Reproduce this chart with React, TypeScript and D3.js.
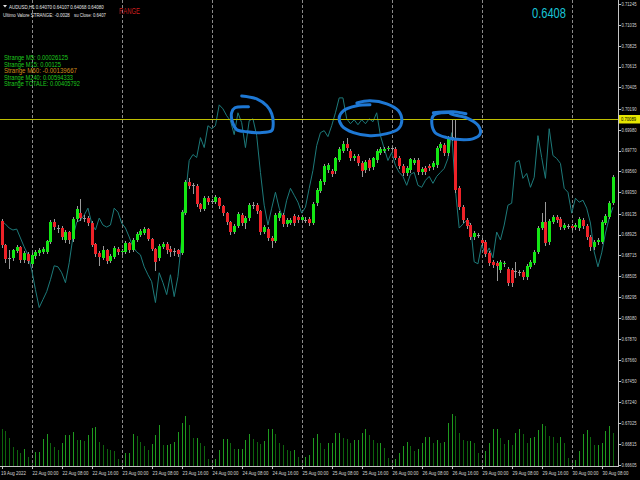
import React from "react";
import * as d3 from "d3";

// ---------- DATA (AUDUSD H1, bar 0 = 19 Aug 2022 16:00) ----------
const openP = [
0.6906,0.6882,0.6869,0.6869,0.6876,0.6880,0.6867,0.6873,0.6863,0.6871,
0.6874,0.6875,0.6875,0.6885,0.6905,0.6899,0.6899,0.6887,0.6895,0.6888,
0.6908,0.6914,0.6909,0.6909,0.6904,0.6883,0.6874,0.6869,0.6877,0.6866,
0.6870,0.6878,0.6875,0.6875,0.6884,0.6877,0.6887,0.6892,0.6894,0.6898,
0.6888,0.6878,0.6869,0.6880,0.6883,0.6878,0.6876,0.6877,0.6874,0.6914,
0.6945,0.6942,0.6941,0.6923,0.6918,0.6929,0.6926,0.6925,0.6929,0.6921,
0.6914,0.6905,0.6895,0.6901,0.6912,0.6904,0.6909,0.6922,0.6922,0.6916,
0.6895,0.6898,0.6889,0.6886,0.6909,0.6912,0.6903,0.6904,0.6911,0.6910,
0.6907,0.6907,0.6908,0.6904,0.6924,0.6936,0.6945,0.6957,0.6956,0.6956,
0.6967,0.6977,0.6984,0.6977,0.6969,0.6972,0.6964,0.6957,0.6967,0.6960,
0.6967,0.6975,0.6977,0.6979,0.6980,0.6979,0.6970,0.6961,0.6954,0.6957,
0.6964,0.6967,0.6955,0.6959,0.6961,0.6960,0.6962,0.6980,0.6983,0.6975,
0.6991,0.6989,0.6939,0.6920,0.6907,0.6902,0.6890,0.6892,0.6887,0.6885,
0.6874,0.6865,0.6864,0.6857,0.6863,0.6858,0.6857,0.6856,0.6855,0.6855,
0.6850,0.6860,0.6864,0.6875,0.6899,0.6905,0.6885,0.6905,0.6910,0.6908,
0.6899,0.6901,0.6901,0.6900,0.6899,0.6907,0.6901,0.6890,0.6880,0.6885,
0.6885,0.6904,0.6910,0.6924];

const closeP = [
0.6882,0.6868,0.6869,0.6877,0.6880,0.6867,0.6874,0.6866,0.6872,0.6875,
0.6877,0.6878,0.6886,0.6905,0.6900,0.6899,0.6890,0.6895,0.6887,0.6908,
0.6918,0.6909,0.6909,0.6904,0.6882,0.6873,0.6870,0.6877,0.6866,0.6871,
0.6879,0.6875,0.6876,0.6884,0.6877,0.6887,0.6893,0.6896,0.6898,0.6888,
0.6878,0.6865,0.6881,0.6883,0.6877,0.6875,0.6876,0.6873,0.6915,0.6945,
0.6941,0.6942,0.6923,0.6918,0.6929,0.6925,0.6926,0.6930,0.6921,0.6914,
0.6905,0.6895,0.6901,0.6913,0.6904,0.6909,0.6922,0.6922,0.6916,0.6895,
0.6900,0.6889,0.6886,0.6912,0.6914,0.6903,0.6907,0.6907,0.6904,0.6907,
0.6910,0.6907,0.6904,0.6923,0.6937,0.6946,0.6961,0.6962,0.6953,0.6969,
0.6979,0.6984,0.6980,0.6969,0.6972,0.6964,0.6956,0.6965,0.6959,0.6969,
0.6977,0.6979,0.6979,0.6980,0.6980,0.6970,0.6961,0.6954,0.6959,0.6968,
0.6967,0.6955,0.6958,0.6955,0.6959,0.6964,0.6980,0.6984,0.6975,0.6990,
0.6991,0.6937,0.6920,0.6907,0.6901,0.6890,0.6894,0.6892,0.6884,0.6873,
0.6864,0.6862,0.6861,0.6865,0.6864,0.6844,0.6844,0.6856,0.6855,0.6850,
0.6861,0.6865,0.6875,0.6899,0.6905,0.6884,0.6906,0.6910,0.6907,0.6900,
0.6902,0.6901,0.6899,0.6902,0.6908,0.6901,0.6890,0.6880,0.6885,0.6887,
0.6905,0.6911,0.6924,0.6950];

const highP = [
0.6908,0.6883,0.6877,0.6878,0.6882,0.6881,0.6876,0.6875,0.6874,0.6877,
0.6879,0.6880,0.6887,0.6907,0.6908,0.6902,0.6901,0.6897,0.6896,0.6910,
0.6921,0.6928,0.6912,0.6911,0.6906,0.6884,0.6876,0.6881,0.6878,0.6873,
0.6881,0.6880,0.6878,0.6886,0.6885,0.6889,0.6895,0.6898,0.6900,0.6899,
0.6889,0.6879,0.6883,0.6885,0.6885,0.6881,0.6879,0.6878,0.6917,0.6947,
0.6949,0.6944,0.6943,0.6924,0.6931,0.6931,0.6928,0.6932,0.6930,0.6922,
0.6915,0.6906,0.6903,0.6915,0.6914,0.6911,0.6924,0.6925,0.6924,0.6917,
0.6902,0.6900,0.6891,0.6914,0.6916,0.6914,0.6909,0.6909,0.6913,0.6912,
0.6912,0.6910,0.6910,0.6925,0.6939,0.6948,0.6963,0.6964,0.6958,0.6971,
0.6981,0.6987,0.6990,0.6979,0.6974,0.6974,0.6966,0.6967,0.6969,0.6971,
0.6979,0.6981,0.6981,0.6982,0.6982,0.6981,0.6972,0.6963,0.6961,0.6970,
0.6969,0.6969,0.6960,0.6961,0.6963,0.6966,0.6982,0.6986,0.6985,0.6992,
0.7009,0.7009,0.6941,0.6922,0.6909,0.6904,0.6896,0.6894,0.6889,0.6887,
0.6876,0.6867,0.6866,0.6867,0.6866,0.6860,0.6859,0.6865,0.6857,0.6857,
0.6863,0.6867,0.6877,0.6901,0.6914,0.6925,0.6908,0.6912,0.6912,0.6910,
0.6904,0.6903,0.6903,0.6904,0.6910,0.6909,0.6903,0.6892,0.6887,0.6889,
0.6907,0.6913,0.6926,0.6952];

const lowP = [
0.6880,0.6865,0.6859,0.6867,0.6875,0.6865,0.6865,0.6864,0.6860,0.6869,
0.6872,0.6874,0.6874,0.6884,0.6898,0.6895,0.6888,0.6885,0.6884,0.6886,
0.6906,0.6907,0.6906,0.6902,0.6881,0.6871,0.6862,0.6868,0.6864,0.6865,
0.6869,0.6873,0.6873,0.6874,0.6875,0.6876,0.6886,0.6891,0.6893,0.6887,
0.6877,0.6857,0.6867,0.6879,0.6874,0.6871,0.6872,0.6871,0.6873,0.6913,
0.6939,0.6934,0.6921,0.6916,0.6917,0.6923,0.6924,0.6924,0.6919,0.6912,
0.6903,0.6893,0.6894,0.6900,0.6902,0.6899,0.6907,0.6919,0.6914,0.6893,
0.6894,0.6887,0.6880,0.6885,0.6907,0.6901,0.6901,0.6903,0.6902,0.6905,
0.6905,0.6905,0.6902,0.6903,0.6922,0.6935,0.6943,0.6955,0.6951,0.6954,
0.6966,0.6976,0.6978,0.6967,0.6967,0.6962,0.6951,0.6955,0.6957,0.6958,
0.6965,0.6974,0.6976,0.6978,0.6978,0.6968,0.6959,0.6952,0.6952,0.6955,
0.6963,0.6953,0.6953,0.6953,0.6957,0.6958,0.6960,0.6978,0.6973,0.6973,
0.6988,0.6935,0.6918,0.6905,0.6899,0.6888,0.6888,0.6890,0.6882,0.6871,
0.6862,0.6860,0.6847,0.6855,0.6861,0.6842,0.6841,0.6850,0.6852,0.6848,
0.6848,0.6859,0.6863,0.6874,0.6898,0.6882,0.6883,0.6904,0.6905,0.6898,
0.6898,0.6899,0.6897,0.6898,0.6897,0.6899,0.6888,0.6877,0.6878,0.6883,
0.6884,0.6903,0.6909,0.6923];

// overlay line (teal)
const overlayLine = [
0.6906,0.6903,0.6899,0.6897,0.6898,0.6889,0.6880,0.6872,0.6857,0.6837,
0.6819,0.6827,0.6835,0.6847,0.6861,0.6860,0.6854,0.6844,0.6864,0.6890,
0.6905,0.6907,0.6912,0.6919,0.6904,0.6897,0.6909,0.6902,0.6900,0.6902,
0.6919,0.6915,0.6904,0.6899,0.6890,0.6880,0.6875,0.6872,0.6860,0.6852,
0.6845,0.6824,0.6854,0.6844,0.6832,0.6852,0.6830,0.6850,0.6887,0.6932,
0.6967,0.6973,0.6970,0.6990,0.6980,0.7002,0.6999,0.7002,0.7023,0.7019,
0.7012,0.7007,0.6993,0.7015,0.7005,0.6980,0.7007,0.7009,0.6992,0.6955,
0.6922,0.6902,0.6919,0.6935,0.6919,0.6909,0.6927,0.6939,0.6932,0.6925,
0.6914,0.6920,0.6939,0.6957,0.6982,0.6995,0.6997,0.6991,0.7002,0.7015,
0.7030,0.7030,0.7009,0.7004,0.7008,0.7003,0.7008,0.7004,0.7009,0.7006,
0.7015,0.6992,0.6979,0.6967,0.6975,0.6962,0.6955,0.6951,0.6942,0.6953,
0.6955,0.6942,0.6940,0.6947,0.6951,0.6944,0.6951,0.6955,0.6959,0.6969,
0.6995,0.6937,0.6899,0.6903,0.6907,0.6903,0.6865,0.6863,0.6882,0.6872,
0.6879,0.6869,0.6895,0.6887,0.6902,0.6922,0.6924,0.6965,0.6967,0.6949,
0.6954,0.6940,0.6950,0.6992,0.6970,0.6949,0.6999,0.6972,0.6969,0.6964,
0.6939,0.6935,0.6914,0.6929,0.6925,0.6927,0.6919,0.6904,0.6875,0.6860,
0.6874,0.6894,0.6909,0.6920];

const volumes = [
3700,3500,2800,1900,1600,1300,1700,900,500,1400,
1400,2700,3200,2300,1900,1600,2300,3100,3100,3400,
2600,2600,2500,3100,3800,3900,2400,2100,1700,1600,
1500,700,400,1300,1300,3200,3000,2400,2000,1600,
2200,3100,4100,2100,2100,2200,2400,3400,4300,5000,
4100,2800,2800,2300,2000,700,400,700,1600,2700,
2700,2300,1700,1700,1700,2600,3200,2700,2400,2200,
2500,3700,3700,3200,2300,2100,1600,1500,1600,900,
400,900,1100,2800,3200,2300,1700,2300,2300,3300,
3300,2800,2700,2300,2600,2600,3300,3700,3100,2600,
2300,2300,1800,800,400,700,1300,2000,2400,2000,
1500,1700,2300,2900,2900,2300,2600,2300,2400,4300,
5200,5000,3300,2600,2500,2500,2300,1300,400,1500,
2300,3700,3700,2800,2200,2600,2100,3300,3700,3200,
2300,2800,2900,3600,4200,4000,3000,2900,2300,2900,
2300,800,400,600,1500,3200,3600,2900,2100,2100,
2300,3500,4000,3300];

const priceTicks = [0.71245,0.71035,0.70825,0.70615,0.70405,0.70190,0.69980,0.69770,0.69560,0.69350,0.69135,0.68925,0.68715,0.68505,0.68295,0.68080,0.67870,0.67660,0.67450,0.67240,0.67025,0.66815,0.66605];

const timeLabels = ["19 Aug 2022","22 Aug 00:00","22 Aug 08:00","22 Aug 16:00","23 Aug 00:00","23 Aug 08:00","23 Aug 16:00","24 Aug 00:00","24 Aug 08:00","24 Aug 16:00","25 Aug 00:00","25 Aug 08:00","25 Aug 16:00","26 Aug 00:00","26 Aug 08:00","26 Aug 16:00","29 Aug 00:00","29 Aug 08:00","29 Aug 16:00","30 Aug 00:00","30 Aug 08:00"];
const timeLabelBars = [0,8,16,24,32,40,48,56,64,72,80,88,96,104,112,120,128,136,144,152,160];
const daySeparatorBars = [8,32,56,80,104,128,152];

const hLinePrice = 0.70089;

const strangeLabels = ["Strange M5: 0.00026125","Strange M15: 0.00125","Strange M60: -0.00139667","Strange M240: 0.00594333","Strange TOTALE: 0.00405792"];
const strangeWidths = [64,57,73,69,76];
const strangeColors = ["#1ec81e","#1ec81e","#d08a1a","#1ec81e","#1ec81e"];

// hand-drawn annotations, [bar index, price]
const circle1 = [[64.0,0.7032],[68.0,0.7029],[70.7,0.7022],[72.0,0.7014],[72.4,0.7004],[72.0,0.6997],[68.9,0.6995],[65.3,0.6996],[62.7,0.6998],[61.6,0.7005],[61.3,0.7015],[62.2,0.7020],[65.8,0.7021]];
const circle2 = [[94.7,0.7025],[98.2,0.7027],[102.7,0.7024],[105.8,0.7017],[106.7,0.7007],[105.8,0.6999],[102.7,0.6994],[98.2,0.6992],[93.8,0.6995],[90.7,0.7002],[90.0,0.7010],[91.1,0.7017],[94.7,0.7022],[98.2,0.7023]];
const circle3tail = [[115.1,0.7015],[120.4,0.7016],[123.8,0.7014]];
const circle3 = [[119.6,0.7014],[124.0,0.7010],[127.1,0.7002],[127.6,0.6994],[125.8,0.6989],[122.2,0.6988],[118.7,0.6990],[115.6,0.6995],[114.7,0.7004],[115.1,0.7012],[117.3,0.7015],[120.4,0.7015]];

// ---------- STYLE ----------
const W = 640, H = 480;
const AXIS_X = 618;
const AXIS_Y = 466;
const FONT = "'Liberation Sans', Arial, sans-serif";
const BULL = "#14e614";
const BEAR = "#ee2228";
const WICK = "#9a9a9a";

type FitProps = { x: number; y: number; w: number; fontSize: number; fill: string; children: string };

// text squeezed horizontally to a target width (the screenshot is compressed)
function FitText({ x, y, w, fontSize, fill, children }: FitProps) {
  const ref = React.useRef<SVGTextElement>(null);
  const [s, setS] = React.useState(0.6);
  React.useLayoutEffect(() => {
    if (ref.current) {
      const n = ref.current.getComputedTextLength();
      if (n > 0) setS(w / n);
    }
  }, [w, children, fontSize]);
  return (
    <text ref={ref} transform={`translate(${x},${y}) scale(${s},1)`} fontSize={fontSize} fill={fill}>
      {children}
    </text>
  );
}

export default function App() {
  const x = d3.scaleLinear().domain([0, 163]).range([1.7, 1.7 + 3.75 * 163]);
  const y = d3.scaleLinear().domain([0.66605, 0.71245]).range([465, 4]);
  const vy = d3.scaleLinear().domain([0, 6000]).range([AXIS_Y, AXIS_Y - 60]);
  const px = (i: number) => Math.round(x(i));

  const overlayPath = d3.line<number>().x((_, i) => x(i)).y((d) => y(d))(overlayLine) || "";
  const ann = d3.line<number[]>().x((d) => x(d[0])).y((d) => y(d[1])).curve(d3.curveCatmullRom.alpha(0.5));
  const annClosed = d3.line<number[]>().x((d) => x(d[0])).y((d) => y(d[1])).curve(d3.curveCatmullRomClosed.alpha(0.5));

  const hy = Math.round(y(hLinePrice)) + 0.5;

  return (
    <div style={{ position: "fixed", left: 0, top: 0, width: W, height: H, background: "#000" }}>
      <svg width={W} height={H} style={{ display: "block" }} fontFamily={FONT}>
        <rect width={W} height={H} fill="#000" />

        {/* volumes */}
        <g shapeRendering="crispEdges">
          {volumes.map((v, i) => (
            <line key={i} x1={px(i) + 0.5} x2={px(i) + 0.5} y1={vy(0)} y2={vy(v)}
              stroke={i > 0 && v >= volumes[i - 1] ? "#1f9a1f" : "#0e640e"} strokeWidth={1} />
          ))}
        </g>

        {/* day separators */}
        <g shapeRendering="crispEdges">
          {daySeparatorBars.map((b) => (
            <line key={b} x1={px(b) + 0.5} x2={px(b) + 0.5} y1={0} y2={AXIS_Y}
              stroke="#8a8a8a" strokeWidth={1} strokeDasharray="3,2" />
          ))}
        </g>

        {/* overlay line */}
        <path d={overlayPath} fill="none" stroke="#1d7a7a" strokeWidth={1} />

        {/* candles */}
        <g shapeRendering="crispEdges">
          {openP.map((o, i) => {
            const c = closeP[i];
            const cx = px(i);
            const yo = Math.round(y(o));
            const yc = Math.round(y(c));
            const top = Math.min(yo, yc);
            const bot = Math.max(yo, yc);
            const col = c > o ? BULL : c < o ? BEAR : null;
            return (
              <g key={i}>
                <line x1={cx + 0.5} x2={cx + 0.5} y1={Math.round(y(highP[i]))} y2={Math.round(y(lowP[i])) + 1} stroke={WICK} strokeWidth={1} />
                {col ? (
                  <rect x={cx - 1} y={top} width={3} height={Math.max(1, bot - top)} fill={col} />
                ) : (
                  <line x1={cx - 1} x2={cx + 2} y1={top + 0.5} y2={top + 0.5} stroke={WICK} strokeWidth={1} />
                )}
              </g>
            );
          })}
        </g>

        {/* horizontal line */}
        <line x1={0} x2={AXIS_X} y1={hy} y2={hy} stroke="#bebe00" strokeWidth={1} shapeRendering="crispEdges" />

        {/* annotations */}
        <g fill="none" stroke="#1e78d4" strokeWidth={3} strokeLinecap="round" strokeLinejoin="round">
          <path d={ann(circle1) || ""} />
          <path d={ann(circle2) || ""} />
          <path d={annClosed(circle3) || ""} />
          <path d={ann(circle3tail) || ""} />
        </g>

        {/* axes */}
        <g shapeRendering="crispEdges" stroke="#c4c4c4" strokeWidth={1}>
          <line x1={AXIS_X + 0.5} x2={AXIS_X + 0.5} y1={0} y2={AXIS_Y + 1} />
          <line x1={0} x2={AXIS_X + 1} y1={AXIS_Y + 0.5} y2={AXIS_Y + 0.5} />
          {priceTicks.map((p) => (
            <line key={p} x1={AXIS_X} x2={AXIS_X + 3} y1={Math.round(y(p)) + 0.5} y2={Math.round(y(p)) + 0.5} />
          ))}
          {timeLabelBars.map((b) => (
            <line key={b} x1={px(b) + 0.5} x2={px(b) + 0.5} y1={AXIS_Y} y2={AXIS_Y + 3} />
          ))}
        </g>
        {priceTicks.map((p) => (
          <FitText key={p} x={621.5} y={y(p) + 1.9} w={15} fontSize={5.2} fill="#d6d6d6">{p.toFixed(5)}</FitText>
        ))}
        {timeLabels.map((t, k) => (
          <FitText key={t} x={k === 0 ? 1 : px(timeLabelBars[k]) + 0.5} y={475} w={k === 0 ? 25 : 26} fontSize={5.6} fill="#d6d6d6">{t}</FitText>
        ))}

        {/* current price label */}
        <rect x={619} y={115} width={21} height={8.5} fill="#e6e600" />
        <FitText x={621} y={121} w={15} fontSize={5.2} fill="#000">{hLinePrice.toFixed(5)}</FitText>

        {/* header texts */}
        <path d="M3,5 L7,5 L5,7.6 Z" fill="#e6e6e6" />
        <FitText x={9} y={8.7} w={95} fontSize={6.2} fill="#e6e6e6">AUDUSD,H1  0.64070 0.64107 0.64068 0.64080</FitText>
        <FitText x={3} y={17.3} w={67} fontSize={6.2} fill="#e6e6e6">Ultimo Valore STRANGE: -0.0028</FitText>
        <FitText x={74} y={17.3} w={32} fontSize={6.2} fill="#e6e6e6">su Close: 0.6407</FitText>
        <FitText x={119} y={13.5} w={21} fontSize={9} fill="#c81e1e">RANGE</FitText>
        {strangeLabels.map((t, k) => (
          <FitText key={t} x={4} y={60 + k * 6.5} w={strangeWidths[k]} fontSize={7} fill={strangeColors[k]}>{t}</FitText>
        ))}
        <FitText x={532} y={18.3} w={34} fontSize={15} fill="#19c3d6">0.6408</FitText>
      </svg>
    </div>
  );
}
